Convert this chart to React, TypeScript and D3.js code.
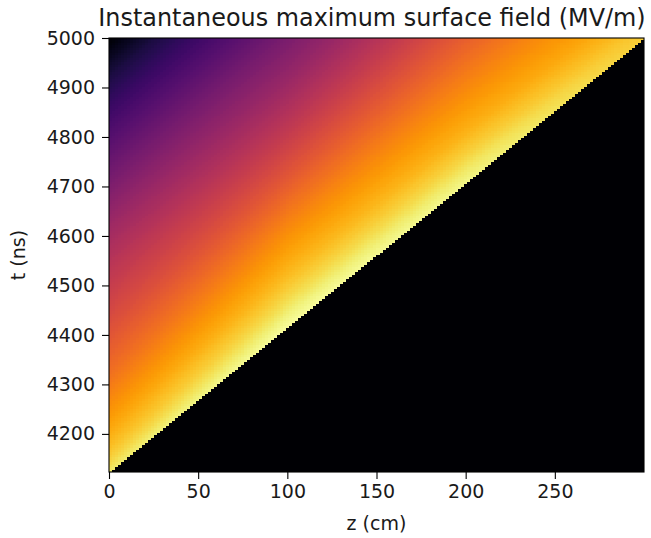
import React, { useEffect, useRef, useState } from 'react';
import * as d3 from 'd3';

// Axis ticks
const zTicks = [0, 50, 100, 150, 200, 250];
const tTicks = [4200, 4300, 4400, 4500, 4600, 4700, 4800, 4900, 5000];

// Extent of the map (cm, ns)
const zRange = [0, 300];
const tRange = [4123, 5000];

// Arrival time of the front at both ends of the structure
const frontZ = [0, 300];
const frontT = [4123, 5000];

// Simulation grid (one time step per cell along z, so the front is a clean staircase)
const nZ = 178;
const nT = 178;

// Normalised field level behind the front, sampled vs. lag time (ns) at a few z positions
const lagNs = [0, 25, 50, 100, 200, 300, 400, 500, 600, 700, 800, 877];
const profileZ = [0, 100, 200, 300];
const levelAtZ0 = [0.94, 0.89, 0.85, 0.79, 0.68, 0.59, 0.51, 0.42, 0.32, 0.22, 0.11, 0.0];
const levelAtZ100 = [0.99, 0.96, 0.92, 0.85, 0.74, 0.62, 0.51, 0.41, 0.32, 0.22, 0.11, 0.0];
const levelAtZ200 = [0.97, 0.94, 0.9, 0.83, 0.73, 0.63, 0.53, 0.43, 0.33, 0.23, 0.12, 0.0];
const levelAtZ300 = [0.88, 0.86, 0.83, 0.78, 0.7, 0.61, 0.52, 0.43, 0.33, 0.23, 0.12, 0.0];

const W = 651;
const H = 538;
const margin = { left: 109, top: 38, right: 7, bottom: 66 };
const pw = W - margin.left - margin.right;
const ph = H - margin.top - margin.bottom;
const FONT = 'DejaVu Sans, sans-serif';

export default function App() {
  const xAxisRef = useRef<SVGGElement>(null);
  const yAxisRef = useRef<SVGGElement>(null);
  const [href, setHref] = useState<string>('');

  const x = d3.scaleLinear().domain(zRange).range([0, pw]);
  const y = d3.scaleLinear().domain(tRange).range([ph, 0]);

  useEffect(() => {
    const profiles = [levelAtZ0, levelAtZ100, levelAtZ200, levelAtZ300].map((lv) =>
      d3.scaleLinear().domain(lagNs).range(lv).clamp(true)
    );
    const front = d3.scaleLinear().domain(frontZ).range(frontT);
    const color = d3.scaleSequential(d3.interpolateInferno).domain([0, 1]);
    const lut = d3.range(256).map((i) => d3.rgb(color(i / 255)));

    const dz = (zRange[1] - zRange[0]) / nZ;
    const dt = (tRange[1] - tRange[0]) / nT;

    // field level for each grid cell
    const cells = new Float32Array(nZ * nT);
    for (let i = 0; i < nZ; i++) {
      const zc = zRange[0] + (i + 0.5) * dz;
      let k = d3.bisectRight(profileZ, zc) - 1;
      k = Math.max(0, Math.min(profileZ.length - 2, k));
      const f = (zc - profileZ[k]) / (profileZ[k + 1] - profileZ[k]);
      for (let j = 0; j < nT; j++) {
        const tc = tRange[0] + (j + 0.5) * dt;
        const lag = tc - front(zc);
        let v = 0;
        if (lag >= -1e-6) {
          const l = Math.max(0, lag);
          v = profiles[k](l) * (1 - f) + profiles[k + 1](l) * f;
        }
        cells[i * nT + j] = v;
      }
    }

    const canvas = document.createElement('canvas');
    canvas.width = pw;
    canvas.height = ph;
    const ctx = canvas.getContext('2d')!;
    const img = ctx.createImageData(pw, ph);
    for (let py = 0; py < ph; py++) {
      const t = y.invert(py + 0.5);
      const j = Math.max(0, Math.min(nT - 1, Math.floor((t - tRange[0]) / dt)));
      for (let px = 0; px < pw; px++) {
        const z = x.invert(px + 0.5);
        const i = Math.max(0, Math.min(nZ - 1, Math.floor((z - zRange[0]) / dz)));
        const v = cells[i * nT + j];
        const c = lut[Math.round(Math.max(0, Math.min(1, v)) * 255)];
        const o = (py * pw + px) * 4;
        img.data[o] = c.r;
        img.data[o + 1] = c.g;
        img.data[o + 2] = c.b;
        img.data[o + 3] = 255;
      }
    }
    ctx.putImageData(img, 0, 0);
    setHref(canvas.toDataURL());

    const fmt = d3.format('d');
    const xa = d3.axisBottom(x).tickValues(zTicks).tickFormat(fmt as any).tickSize(7).tickSizeOuter(0).tickPadding(6);
    const ya = d3.axisLeft(y).tickValues(tTicks).tickFormat(fmt as any).tickSize(7).tickSizeOuter(0).tickPadding(7);
    const gx = d3.select(xAxisRef.current!).call(xa as any);
    const gy = d3.select(yAxisRef.current!).call(ya as any);
    [gx, gy].forEach((g) => {
      g.select('.domain').remove();
      g.selectAll('.tick line').attr('stroke', '#000').attr('stroke-width', 1.1);
      g.selectAll('.tick text')
        .attr('fill', '#1a1a1a')
        .style('font-family', FONT)
        .style('font-size', '19px');
    });
  }, []);

  return (
    <svg
      width={W}
      height={H}
      style={{ position: 'fixed', left: 0, top: 0, background: '#fff' }}
      fontFamily={FONT}
    >
      <text x={372} y={26} textAnchor="middle" fontSize={23.9} fill="#1a1a1a">
        Instantaneous maximum surface field (MV/m)
      </text>
      <g transform={`translate(${margin.left},${margin.top})`}>
        {href && (
          <image href={href} x={0} y={0} width={pw} height={ph} preserveAspectRatio="none" />
        )}
        <rect x={0} y={0} width={pw} height={ph} fill="none" stroke="#000" strokeWidth={1.1} />
        <g ref={xAxisRef} transform={`translate(0,${ph})`} />
        <g ref={yAxisRef} />
        <text x={pw / 2} y={ph + 58} textAnchor="middle" fontSize={19} fill="#1a1a1a">
          z (cm)
        </text>
        <text
          transform={`translate(${-84},${ph / 2}) rotate(-90)`}
          textAnchor="middle"
          fontSize={19}
          fill="#1a1a1a"
        >
          t (ns)
        </text>
      </g>
    </svg>
  );
}
